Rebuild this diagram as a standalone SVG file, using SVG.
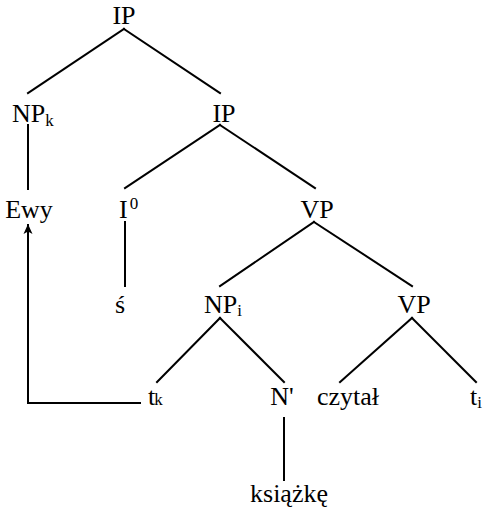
<svg xmlns="http://www.w3.org/2000/svg" width="486" height="516" viewBox="0 0 486 516">
  <defs>
    <marker id="arrow" viewBox="0 0 10 10" refX="9" refY="5" markerWidth="11" markerHeight="10" orient="auto" markerUnits="userSpaceOnUse">
      <path d="M0,0.5 L10,5 L0,9.5 L2.5,5 Z" fill="#000"/>
    </marker>
  </defs>
  <style>
    text { font-family: "Liberation Serif", "Times New Roman", serif; font-size: 26px; fill: #000; }
    .mid { text-anchor: middle; }
    .sub { font-size: 17px; }
    .sup { font-size: 17px; }
    .edge { stroke: #000; stroke-width: 2; fill: none; stroke-linecap: square; }
  </style>
  <rect width="486" height="516" fill="#fff"/>

  <g id="connectors">
    <line class="edge" x1="124" y1="29" x2="28" y2="93"/>
    <line class="edge" x1="124" y1="29" x2="220" y2="93"/>
    <line class="edge" x1="28" y1="125" x2="28" y2="189"/>
    <line class="edge" x1="220" y1="125" x2="125" y2="188"/>
    <line class="edge" x1="220" y1="125" x2="315" y2="188"/>
    <line class="edge" x1="125" y1="222" x2="125" y2="286"/>
    <line class="edge" x1="314" y1="222" x2="220" y2="286"/>
    <line class="edge" x1="314" y1="222" x2="412" y2="286"/>
    <line class="edge" x1="220" y1="318" x2="157" y2="382"/>
    <line class="edge" x1="220" y1="318" x2="284" y2="382"/>
    <line class="edge" x1="412" y1="318" x2="340" y2="382"/>
    <line class="edge" x1="412" y1="318" x2="476" y2="382"/>
    <line class="edge" x1="284" y1="418" x2="284" y2="480"/>
    <!-- movement arrow from trace t_k back up to Ewy -->
    <path class="edge" d="M140,403 L28,403 L28,225" stroke-linecap="butt" marker-end="url(#arrow)"/>
  </g>

  <g id="ip-root"><text class="mid" x="124" y="24">IP</text></g>
  <g id="np-k"><text x="12" y="122">NP<tspan class="sub" dx="0" dy="4">k</tspan></text></g>
  <g id="ip"><text class="mid" x="224" y="122">IP</text></g>
  <g id="ewy"><text class="mid" x="29" y="218">Ewy</text></g>
  <g id="i0"><text x="119" y="218">I<tspan class="sup" dx="2" dy="-9">0</tspan></text></g>
  <g id="vp-upper"><text class="mid" x="317" y="218">VP</text></g>
  <g id="s"><text class="mid" x="120" y="313">ś</text></g>
  <g id="np-i"><text x="204" y="313">NP<tspan class="sub" dx="0" dy="3">i</tspan></text></g>
  <g id="vp-lower"><text class="mid" x="414" y="313">VP</text></g>
  <g id="t-k"><text x="148" y="405">t<tspan class="sub" dx="-1" dy="0">k</tspan></text></g>
  <g id="n-bar"><text class="mid" x="282" y="405">N'</text></g>
  <g id="czytal"><text class="mid" x="348" y="405">czytał</text></g>
  <g id="t-i"><text x="470" y="405">t<tspan class="sub" dx="0" dy="3">i</tspan></text></g>
  <g id="ksiazke"><text class="mid" x="289" y="502">książkę</text></g>
</svg>
